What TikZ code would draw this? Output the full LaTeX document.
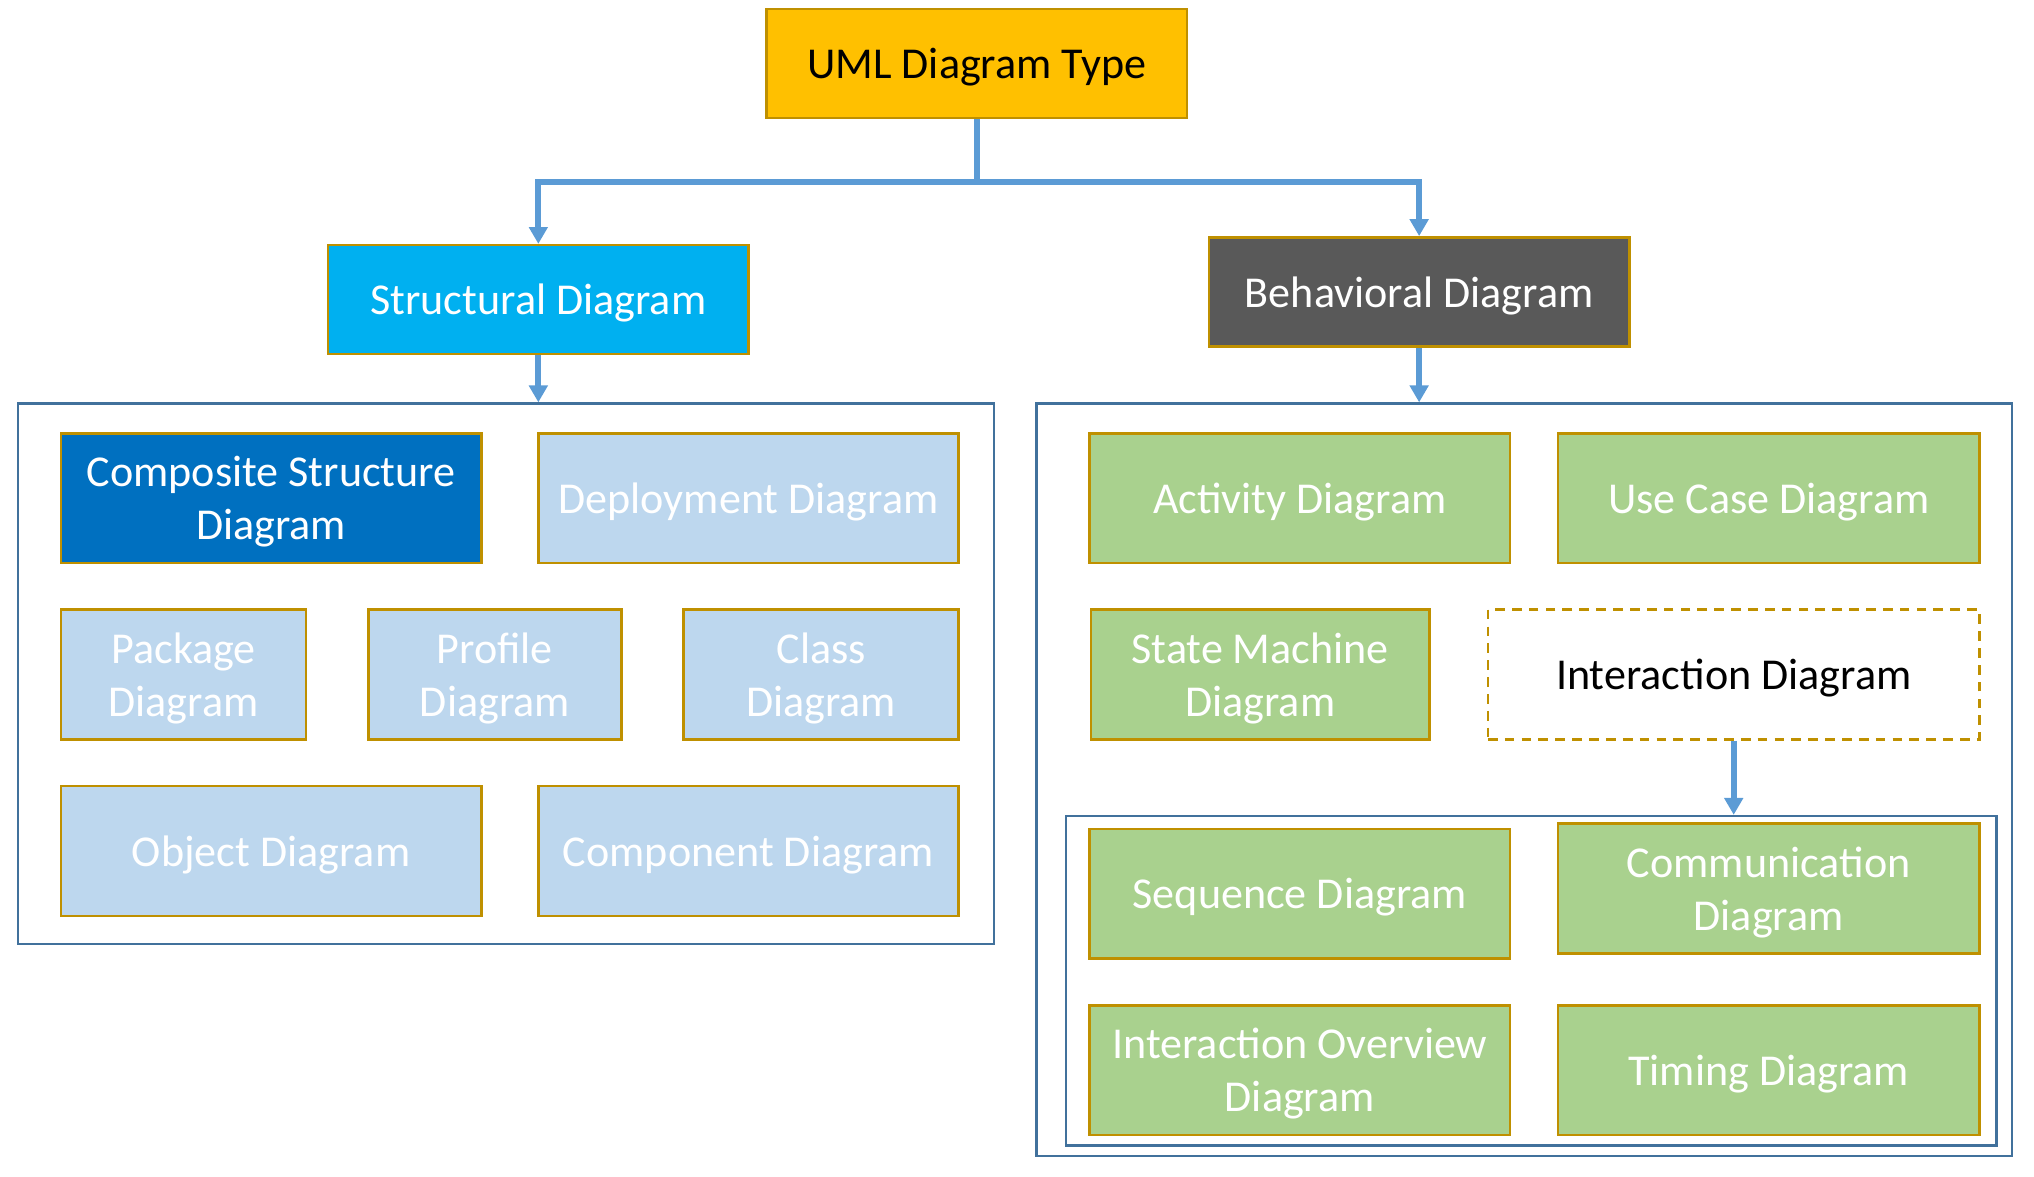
\documentclass[tikz,border=0pt]{standalone}
\usepackage{fontspec}
\setmainfont{Carlito}
\usetikzlibrary{arrows.meta}
\definecolor{gold}{HTML}{BF9000}
\definecolor{topfill}{HTML}{FFC000}
\definecolor{cyanfill}{HTML}{00B0F0}
\definecolor{grayfill}{HTML}{595959}
\definecolor{darkblue}{HTML}{0070C0}
\definecolor{lightblue}{HTML}{BDD7EE}
\definecolor{greenfill}{HTML}{A9D18E}
\definecolor{connblue}{HTML}{5B9BD5}
\definecolor{groupblue}{HTML}{41719C}
\newcommand{\lowtxt}[1]{\raisebox{-3.5pt}[\height][\depth]{\begin{tabular}{@{}c@{}}#1\end{tabular}}}
\tikzset{
  box/.style={draw=gold, line width=2pt, rectangle, inner sep=0pt, align=center,
    text=white, font=\fontsize{34}{41}\selectfont},
  grp/.style={draw=groupblue, line width=1.7pt, rectangle, inner sep=0pt},
  conn/.style={draw=connblue, line width=4.5pt, -{Triangle[length=13pt,width=14pt]}},
  joint/.style={draw=connblue, line width=4.5pt},
}
\begin{document}
\begin{tikzpicture}[x=1pt,y=-1pt]
\useasboundingbox (0,0) rectangle (1568,907);
% groups
\node[grp, minimum width=752pt, minimum height=417pt] (lgroup) at (390,519.5) {};
\node[grp, minimum width=752pt, minimum height=580pt] (rgroup) at (1175,601) {};
\node[grp, minimum width=717pt, minimum height=254pt] (igroup) at (1180.5,756) {};
% top levels
\node[box, fill=topfill, text=black, minimum width=324pt, minimum height=84pt] (top) at (753,49) {\lowtxt{UML Diagram Type}};
\node[box, fill=cyanfill, minimum width=324pt, minimum height=84pt] (struct) at (415,231) {\lowtxt{Structural Diagram}};
\node[box, fill=grayfill, minimum width=324pt, minimum height=84pt] (behav) at (1094,225) {\lowtxt{Behavioral Diagram}};
% structural
\node[box, fill=darkblue, minimum width=324pt, minimum height=100pt] (comp) at (209,384) {\lowtxt{Composite Structure\\Diagram}};
\node[box, fill=lightblue, minimum width=324pt, minimum height=100pt] (deploy) at (577,384) {\lowtxt{Deployment Diagram}};
\node[box, fill=lightblue, minimum width=189pt, minimum height=100pt] (package) at (141.5,520) {\lowtxt{Package\\Diagram}};
\node[box, fill=lightblue, minimum width=195pt, minimum height=100pt] (profile) at (381.5,520) {\lowtxt{Profile\\Diagram}};
\node[box, fill=lightblue, minimum width=212pt, minimum height=100pt] (class) at (633,520) {\lowtxt{Class\\Diagram}};
\node[box, fill=lightblue, minimum width=324pt, minimum height=100pt] (object) at (209,656) {\lowtxt{Object Diagram}};
\node[box, fill=lightblue, minimum width=324pt, minimum height=100pt] (component) at (577,656) {\lowtxt{Component Diagram}};
% behavioral
\node[box, fill=greenfill, minimum width=324pt, minimum height=100pt] (activity) at (1002,384) {\lowtxt{Activity Diagram}};
\node[box, fill=greenfill, minimum width=325pt, minimum height=100pt] (usecase) at (1363.5,384) {\lowtxt{Use Case Diagram}};
\node[box, fill=greenfill, minimum width=261pt, minimum height=100pt] (state) at (971.5,520) {\lowtxt{State Machine\\Diagram}};
\node[box, fill=white, text=black, dash pattern=on 7.5pt off 5.5pt, minimum width=379pt, minimum height=100pt] (inter) at (1336.5,520) {\lowtxt{Interaction Diagram}};
\node[box, fill=greenfill, minimum width=324pt, minimum height=100pt] (sequence) at (1002,689) {\lowtxt{Sequence Diagram}};
\node[box, fill=greenfill, minimum width=325pt, minimum height=100pt] (communication) at (1363.5,685) {\lowtxt{Communication\\Diagram}};
\node[box, fill=greenfill, minimum width=324pt, minimum height=100pt] (overview) at (1002,825) {\lowtxt{Interaction Overview\\Diagram}};
\node[box, fill=greenfill, minimum width=325pt, minimum height=100pt] (timing) at (1363.5,825) {\lowtxt{Timing Diagram}};
% connectors
\coordinate (split) at (top.south |- 0,140);
\draw[joint] (top.south) -- (split);
\draw[conn] (split) -| (struct.north);
\draw[conn] (split) -| (behav.north);
\draw[conn] (struct.south) -- (struct.south |- lgroup.north);
\draw[conn] (behav.south) -- (behav.south |- rgroup.north);
\draw[conn] (inter.south) -- (inter.south |- igroup.north);
\end{tikzpicture}
\end{document}
